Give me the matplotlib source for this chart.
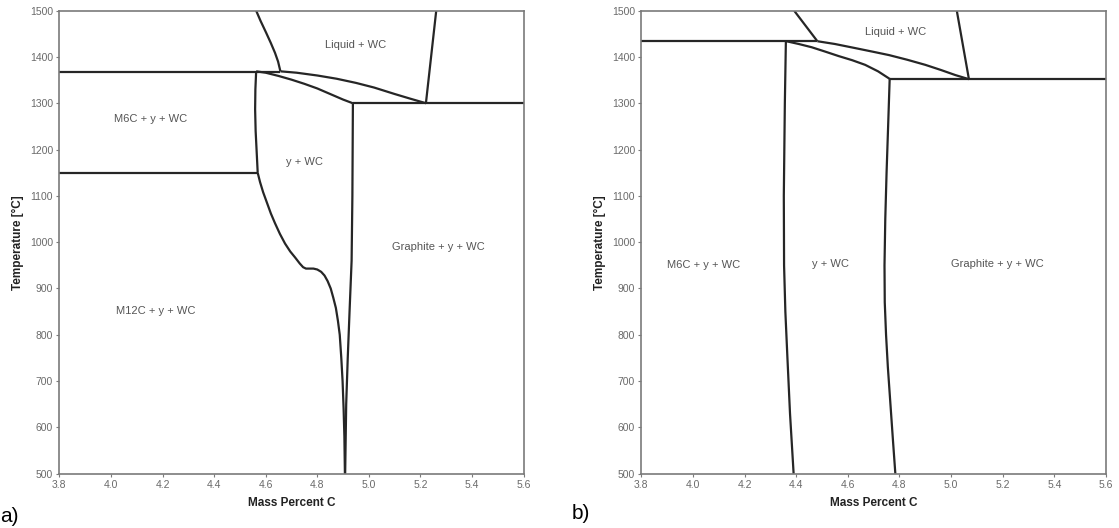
import matplotlib.pyplot as plt
import numpy as np

plt.rcParams["font.family"] = ["Liberation Sans", "DejaVu Sans"]

# ---- panel a) phase boundaries (mass % C, temperature degC) ----
a_liq_left_x = [4.563, 4.580, 4.602, 4.620, 4.636, 4.648, 4.657]
a_liq_left_t = [1500, 1478, 1452, 1430, 1409, 1390, 1369]
a_liq_right_x = [5.261, 5.221]
a_liq_right_t = [1500, 1300]
a_liq_bottom_x = [4.657, 4.72, 4.80, 4.875, 4.95, 5.02, 5.10, 5.16, 5.222]
a_liq_bottom_t = [1369, 1366, 1360, 1353, 1344, 1334, 1320, 1310, 1300]
a_gam_top_x = [4.563, 4.60, 4.65, 4.70, 4.75, 4.80, 4.85, 4.90, 4.938]
a_gam_top_t = [1369, 1366, 1359, 1351, 1342, 1332, 1320, 1308, 1300]
a_gam_left_x = [4.563, 4.560, 4.559, 4.561, 4.565, 4.569]
a_gam_left_t = [1369, 1330, 1287, 1240, 1195, 1150]
a_gam_low_x = [4.569, 4.578, 4.590, 4.605, 4.620, 4.636, 4.655, 4.675, 4.695,
               4.714, 4.732, 4.745, 4.756, 4.785, 4.800, 4.815, 4.828, 4.840,
               4.852, 4.862, 4.872, 4.880, 4.887, 4.893, 4.898, 4.902, 4.905,
               4.907]
a_gam_low_t = [1150, 1130, 1108, 1085, 1062, 1041, 1018, 997, 980,
               967, 954, 946, 943, 943, 941, 936, 928, 916,
               900, 880, 858, 830, 800, 750, 700, 640, 580,
               500]
a_gam_right_x = [4.938, 4.937, 4.936, 4.933, 4.925, 4.918, 4.912, 4.908]
a_gam_right_t = [1300, 1200, 1100, 960, 850, 750, 650, 500]
a_iso_x = [[3.8, 4.657], [3.8, 4.569], [4.938, 5.6]]
a_iso_t = [1368, 1150, 1300]

a_labels = ["Liquid + WC", "M6C + y + WC", "y + WC", "Graphite + y + WC", "M12C + y + WC"]
a_label_x = [4.948, 4.155, 4.750, 5.270, 4.173]
a_label_t = [1425, 1265, 1173, 989, 851]

# ---- panel b) phase boundaries ----
b_liq_left_x = [4.392, 4.482]
b_liq_left_t = [1500, 1434]
b_liq_right_x = [5.022, 5.069]
b_liq_right_t = [1500, 1352]
b_liq_bottom_x = [4.482, 4.55, 4.63, 4.70, 4.76, 4.83, 4.90, 4.96, 5.016, 5.069]
b_liq_bottom_t = [1434, 1428, 1419, 1411, 1404, 1394, 1383, 1372, 1361, 1352]
b_gam_top_x = [4.362, 4.41, 4.46, 4.51, 4.564, 4.617, 4.667, 4.717, 4.764]
b_gam_top_t = [1434, 1428, 1421, 1412, 1402, 1393, 1383, 1369, 1352]
b_gam_left_x = [4.360, 4.356, 4.352, 4.353, 4.358, 4.366, 4.376, 4.390]
b_gam_left_t = [1434, 1300, 1100, 950, 850, 750, 630, 500]
b_gam_right_x = [4.762, 4.756, 4.750, 4.745, 4.742, 4.743, 4.748, 4.755,
                 4.765, 4.775, 4.784]
b_gam_right_t = [1352, 1250, 1150, 1050, 950, 870, 800, 730,
                 650, 570, 500]
b_iso_x = [[3.8, 4.482], [4.762, 5.6]]
b_iso_t = [1434, 1352]

b_labels = ["Liquid + WC", "M6C + y + WC", "y + WC", "Graphite + y + WC"]
b_label_x = [4.786, 4.043, 4.534, 5.181]
b_label_t = [1453, 950, 952, 953]

x_ticks = np.round(np.arange(3.8, 5.61, 0.2), 1)
t_ticks = np.arange(500, 1501, 100)

line_kw = dict(color="#262626", linewidth=1.6, solid_capstyle="butt",
               solid_joinstyle="round")


def setup_axes(ax):
    ax.set_xlim(3.8, 5.6)
    ax.set_ylim(500, 1500)
    ax.set_xticks(x_ticks)
    ax.set_xticklabels(["%.1f" % v for v in x_ticks])
    ax.set_yticks(t_ticks)
    for side in ["top", "right", "left", "bottom"]:
        ax.spines[side].set_color("#7a7a7a")
        ax.spines[side].set_linewidth(1.2)
    ax.tick_params(direction="out", length=2.5, width=0.8, color="#7a7a7a",
                   labelsize=7.5, labelcolor="#6a6a6a", pad=2)
    ax.set_xlabel("Mass Percent C", fontsize=8.5, fontweight="bold",
                  color="#222222", labelpad=5)
    ax.set_ylabel("Temperature [\u00b0C]", fontsize=8.5, fontweight="bold",
                  color="#222222", labelpad=4)


fig = plt.figure(figsize=(11.19, 5.28), dpi=100)
ax1 = fig.add_axes([0.053, 0.1028, 0.415, 0.877])
ax2 = fig.add_axes([0.5731, 0.1028, 0.4153, 0.877])

for xs, ts in [(a_liq_left_x, a_liq_left_t), (a_liq_right_x, a_liq_right_t),
               (a_liq_bottom_x, a_liq_bottom_t), (a_gam_top_x, a_gam_top_t),
               (a_gam_left_x, a_gam_left_t), (a_gam_low_x, a_gam_low_t),
               (a_gam_right_x, a_gam_right_t)]:
    ax1.plot(xs, ts, **line_kw)
for xs, t in zip(a_iso_x, a_iso_t):
    ax1.plot(xs, [t, t], **line_kw)
for lab, x, t in zip(a_labels, a_label_x, a_label_t):
    ax1.text(x, t, lab, fontsize=8, color="#555555", ha="center", va="center")

for xs, ts in [(b_liq_left_x, b_liq_left_t), (b_liq_right_x, b_liq_right_t),
               (b_liq_bottom_x, b_liq_bottom_t), (b_gam_top_x, b_gam_top_t),
               (b_gam_left_x, b_gam_left_t), (b_gam_right_x, b_gam_right_t)]:
    ax2.plot(xs, ts, **line_kw)
for xs, t in zip(b_iso_x, b_iso_t):
    ax2.plot(xs, [t, t], **line_kw)
for lab, x, t in zip(b_labels, b_label_x, b_label_t):
    ax2.text(x, t, lab, fontsize=8, color="#555555", ha="center", va="center")

setup_axes(ax1)
setup_axes(ax2)

fig.text(0.0, 0.003, "a)", fontsize=15, color="black", ha="left", va="bottom")
fig.text(0.511, 0.010, "b)", fontsize=15, color="black", ha="left", va="bottom")

fig.savefig("out.png", dpi=100)
plt.close()
